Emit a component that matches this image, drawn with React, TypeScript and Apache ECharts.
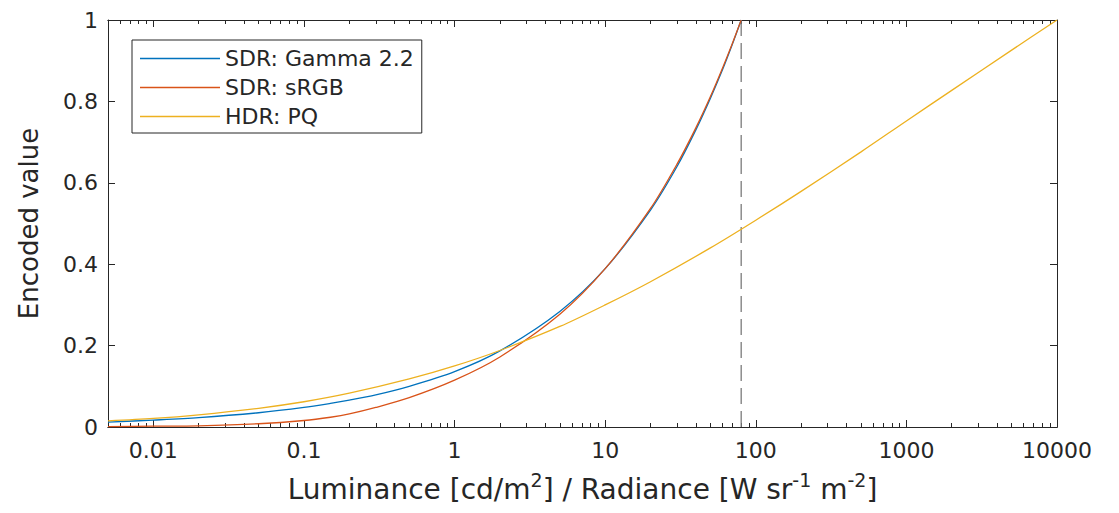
import { useEffect, useRef } from "react";
import * as echarts from "echarts";

// Luminance sample points (cd/m^2) for the SDR curves
const luminanceSDR = [0.005, 0.01, 0.02, 0.05, 0.1, 0.15, 0.2, 0.3, 0.5, 1, 2, 5, 10, 20, 30, 40, 50, 60, 70, 80];
const gamma22 = [0.012, 0.017, 0.023, 0.035, 0.048, 0.058, 0.066, 0.079, 0.100, 0.136, 0.187, 0.284, 0.389, 0.533, 0.640, 0.730, 0.808, 0.877, 0.941, 1.0];
const srgb = [0.001, 0.002, 0.003, 0.008, 0.016, 0.024, 0.032, 0.048, 0.072, 0.115, 0.172, 0.277, 0.389, 0.537, 0.646, 0.735, 0.812, 0.881, 0.943, 1.0];

// Luminance sample points for the HDR curve
const luminanceHDR = [0.005, 0.01, 0.02, 0.05, 0.1, 0.2, 0.5, 1, 2, 5, 10, 20, 50, 100, 200, 500, 1000, 2000, 5000, 10000];
const pq = [0.015, 0.021, 0.030, 0.046, 0.062, 0.083, 0.118, 0.150, 0.188, 0.247, 0.300, 0.357, 0.440, 0.508, 0.579, 0.676, 0.752, 0.827, 0.926, 1.0];

// Display peak (dashed marker)
const peakLuminance = 80;
const peakRange = [0, 1];

const seriesNames = ["SDR: Gamma 2.2", "SDR: sRGB", "HDR: PQ"];
const majorTicks = [0.01, 0.1, 1, 10, 100, 1000, 10000];
const decades = [0.001, 0.01, 0.1, 1, 10, 100, 1000];
const minorMultipliers = [2, 3, 4, 5, 6, 7, 8, 9];
const yTicks = [0, 0.2, 0.4, 0.6, 0.8, 1];

const X_MIN = 0.005;
const X_MAX = 10000;

const minorTicks: number[] = [];
decades.forEach((d) =>
  minorMultipliers.forEach((m) => {
    const v = parseFloat((d * m).toPrecision(6));
    if (v >= X_MIN && v <= X_MAX) minorTicks.push(v);
  })
);

const AX = "#262626";
const FONT = "DejaVu Sans";

function fmtX(v: number) {
  const n = Number(v);
  if (n >= 1) return String(Math.round(n));
  return String(parseFloat(n.toPrecision(3)));
}

export default function App() {
  const ref = useRef<HTMLDivElement>(null);
  useEffect(() => {
    if (!ref.current) return;
    const chart = echarts.init(ref.current, undefined, { renderer: "svg" });
    const baseX = {
      type: "log" as const,
      logBase: 10,
      min: X_MIN,
      max: X_MAX,
      splitLine: { show: false },
      minorTick: { show: false },
      minorSplitLine: { show: false },
      axisLine: { show: true, onZero: false, lineStyle: { color: AX, width: 1 } },
    };
    const tickStyle = { color: AX, width: 1 };
    chart.setOption({
      animation: false,
      grid: { left: 108, right: 62, top: 20, bottom: 83, containLabel: false },
      legend: {
        data: seriesNames,
        orient: "vertical",
        left: 132,
        top: 40,
        icon: "rect",
        backgroundColor: "#ffffff",
        borderColor: AX,
        borderWidth: 1,
        borderRadius: 0,
        padding: [6, 8, 4, 8],
        itemWidth: 80,
        itemHeight: 1.6,
        itemGap: 4,
        textStyle: { fontFamily: FONT, fontSize: 22, lineHeight: 25, color: AX },
      },
      xAxis: [
        {
          ...baseX,
          position: "bottom",
          name: "Luminance [cd/m{sup|2}] / Radiance [W sr{sup|-1} m{sup|-2}]",
          nameLocation: "middle",
          nameGap: 43,
          nameTextStyle: {
            fontFamily: FONT,
            fontSize: 28,
            lineHeight: 38,
            color: AX,
            rich: {
              sup: { fontFamily: FONT, fontSize: 19, lineHeight: 19, color: AX, verticalAlign: "top" },
            },
          },
          axisTick: { show: true, inside: true, length: 7, lineStyle: tickStyle, customValues: majorTicks },
          axisLabel: {
            show: true,
            fontFamily: FONT,
            fontSize: 22,
            color: AX,
            margin: 12,
            customValues: majorTicks,
            formatter: (v: number) => fmtX(v),
          },
        },
        {
          ...baseX,
          position: "bottom",
          axisTick: { show: true, inside: true, length: 4, lineStyle: tickStyle, customValues: minorTicks },
          axisLabel: { show: false },
        },
        {
          ...baseX,
          position: "top",
          axisTick: { show: true, inside: true, length: 7, lineStyle: tickStyle, customValues: majorTicks },
          axisLabel: { show: false },
        },
        {
          ...baseX,
          position: "top",
          axisTick: { show: true, inside: true, length: 4, lineStyle: tickStyle, customValues: minorTicks },
          axisLabel: { show: false },
        },
      ],
      yAxis: [
        {
          type: "value",
          min: 0,
          max: 1,
          interval: 0.2,
          position: "left",
          name: "Encoded value",
          nameLocation: "middle",
          nameGap: 66,
          nameTextStyle: { fontFamily: FONT, fontSize: 26, color: AX },
          splitLine: { show: false },
          axisLine: { show: true, onZero: false, lineStyle: { color: AX, width: 1 } },
          axisTick: { show: true, inside: true, length: 7, lineStyle: tickStyle, customValues: yTicks },
          axisLabel: {
            fontFamily: FONT,
            fontSize: 22,
            color: AX,
            margin: 10,
            formatter: (v: number) => String(parseFloat(Number(v).toFixed(2))),
          },
        },
        {
          type: "value",
          min: 0,
          max: 1,
          interval: 0.2,
          position: "right",
          splitLine: { show: false },
          axisLine: { show: true, onZero: false, lineStyle: { color: AX, width: 1 } },
          axisTick: { show: true, inside: true, length: 7, lineStyle: tickStyle },
          axisLabel: { show: false },
        },
      ],
      series: [
        {
          name: "peak",
          type: "line",
          xAxisIndex: 0,
          yAxisIndex: 0,
          symbol: "none",
          silent: true,
          data: peakRange.map((y) => [peakLuminance, y]),
          lineStyle: { color: "#7a7a7a", width: 1.3, type: [16, 7] },
          z: 1,
        },
        {
          name: seriesNames[0],
          type: "line",
          symbol: "none",
          smooth: 0.3,
          color: "#0072BD",
          lineStyle: { width: 1.3 },
          data: luminanceSDR.map((x, i) => [x, gamma22[i]]),
          z: 2,
        },
        {
          name: seriesNames[1],
          type: "line",
          symbol: "none",
          smooth: 0.3,
          color: "#D95319",
          lineStyle: { width: 1.3 },
          data: luminanceSDR.map((x, i) => [x, srgb[i]]),
          z: 3,
        },
        {
          name: seriesNames[2],
          type: "line",
          symbol: "none",
          smooth: 0.3,
          color: "#EDB120",
          lineStyle: { width: 1.3 },
          data: luminanceHDR.map((x, i) => [x, pq[i]]),
          z: 4,
        },
      ],
    });
    return () => chart.dispose();
  }, []);
  return (
    <div
      ref={ref}
      style={{ position: "absolute", left: 0, top: 0, width: 1119, height: 513, background: "#fff" }}
    />
  );
}
